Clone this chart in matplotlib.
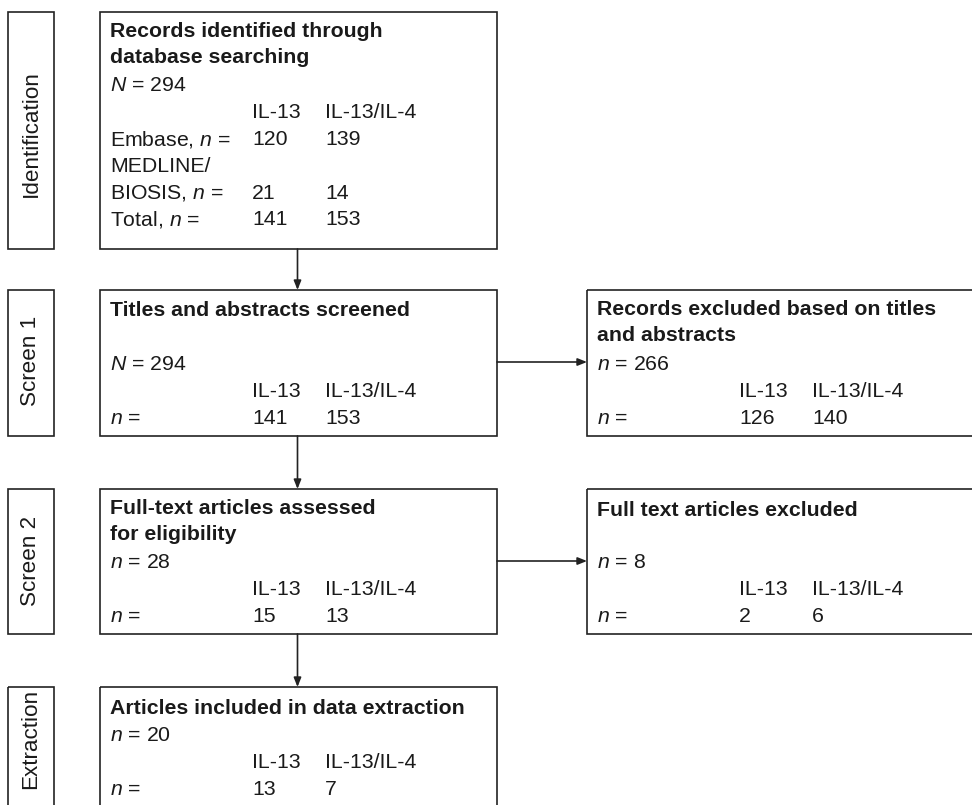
import matplotlib
matplotlib.use("Agg")
import matplotlib.pyplot as plt
from matplotlib.patches import Rectangle

plt.rcParams['font.family'] = ['Liberation Sans', 'DejaVu Sans']
plt.rcParams['mathtext.fontset'] = 'custom'
plt.rcParams['mathtext.it'] = 'Liberation Sans:italic'
plt.rcParams['mathtext.rm'] = 'Liberation Sans'

# data
stages = ["Identification", "Screen 1", "Screen 2", "Extraction"]
columns = ["IL-13", "IL-13/IL-4"]
source_rows = ["Embase, $n$ =", "MEDLINE/", "BIOSIS, $n$ =", "Total, $n$ ="]
source_il13 = [120, None, 21, 141]
source_il13_il4 = [139, None, 14, 153]
n_identified = 294
n_screened = 294
screened = [141, 153]
n_excl_abstract = 266
excl_abstract = [126, 140]
n_fulltext = 28
fulltext = [15, 13]
n_excl_fulltext = 8
excl_fulltext = [2, 6]
n_included = 20
included = [13, 7]

W, H = 972, 805
fig = plt.figure(figsize=(W / 100, H / 100), dpi=100)
ax = fig.add_axes([0, 0, 1, 1])
ax.set_xlim(0, W)
ax.set_ylim(H, 0)
ax.axis('off')

lc = '#222222'
fs = 15.3
lh = 26.8   # line height in px


def box(x0, y0, x1, y1):
    ax.add_patch(Rectangle((x0, y0), x1 - x0, y1 - y0, fill=False,
                           ec=lc, lw=1.2, clip_on=False))


def write(x, y, s, bold=False):
    ax.text(x, y, s, fontsize=fs, ha='left', va='baseline', color='#1a1a1a',
            fontweight='bold' if bold else 'normal')


def table(x, y, label, vals, cx=(142, 215)):
    # header row then values row
    write(x + cx[0], y, columns[0])
    write(x + cx[1], y, columns[1])
    write(x, y + lh, label)
    write(x + cx[0], y + lh, str(vals[0]))
    write(x + cx[1], y + lh, str(vals[1]))


def arrow(x0, y0, x1, y1):
    ax.annotate('', xy=(x1, y1), xytext=(x0, y0),
                arrowprops=dict(arrowstyle='-|>,head_length=0.55,head_width=0.22',
                                color=lc, lw=1.2, shrinkA=0, shrinkB=0))


# stage label boxes
rows_y = [(12, 249), (290, 436), (489, 634), (687, 830)]
label_y = [134, 361, 561, 739]
for name, (y0, y1), ly in zip(stages, rows_y, label_y):
    box(8, y0, 54, y1)
    ax.text(31, ly, name, fontsize=16.2, rotation=90, ha='center', va='center',
            color='#1a1a1a')

# main column boxes
mx0, mx1 = 100, 497
tx = 110
for (y0, y1) in rows_y:
    box(mx0, y0, mx1, y1)

# box 1: identification
write(tx, 37, "Records identified through", bold=True)
write(tx, 37 + 26, "database searching", bold=True)
write(tx, 91, "$N$ = %d" % n_identified)
write(tx + 142, 118, columns[0])
write(tx + 215, 118, columns[1])
for i, lab in enumerate(source_rows):
    yy = 145 + i * lh
    write(tx, yy, lab)
    if source_il13[i] is not None:
        write(tx + 142, yy, str(source_il13[i]))
        write(tx + 215, yy, str(source_il13_il4[i]))

# box 2: screened
write(tx, 316, "Titles and abstracts screened", bold=True)
write(tx, 370, "$N$ = %d" % n_screened)
table(tx, 397, "$n$ =", screened)

# box 3: full text
write(tx, 514, "Full-text articles assessed", bold=True)
write(tx, 540, "for eligibility", bold=True)
write(tx, 568, "$n$ = %d" % n_fulltext)
table(tx, 595, "$n$ =", fulltext)

# box 5: included
write(tx, 714, "Articles included in data extraction", bold=True)
write(tx, 741, "$n$ = %d" % n_included)
table(tx, 768, "$n$ =", included)

# right boxes (exclusions)
rx0, rtx = 587, 597
box(rx0, 290, 990, 436)
write(rtx, 315, "Records excluded based on titles", bold=True)
write(rtx, 341, "and abstracts", bold=True)
write(rtx, 370, "$n$ = %d" % n_excl_abstract)
table(rtx, 397, "$n$ =", excl_abstract)

box(rx0, 489, 990, 634)
write(rtx, 516, "Full text articles excluded", bold=True)
write(rtx, 568, "$n$ = %d" % n_excl_fulltext)
table(rtx, 595, "$n$ =", excl_fulltext)

# arrows
cx = 297.5
arrow(cx, 249, cx, 290)
arrow(cx, 436, cx, 489)
arrow(cx, 634, cx, 687)
arrow(mx1, 362, rx0, 362)
arrow(mx1, 561, rx0, 561)

fig.savefig("out.png", dpi=100, facecolor='white')
